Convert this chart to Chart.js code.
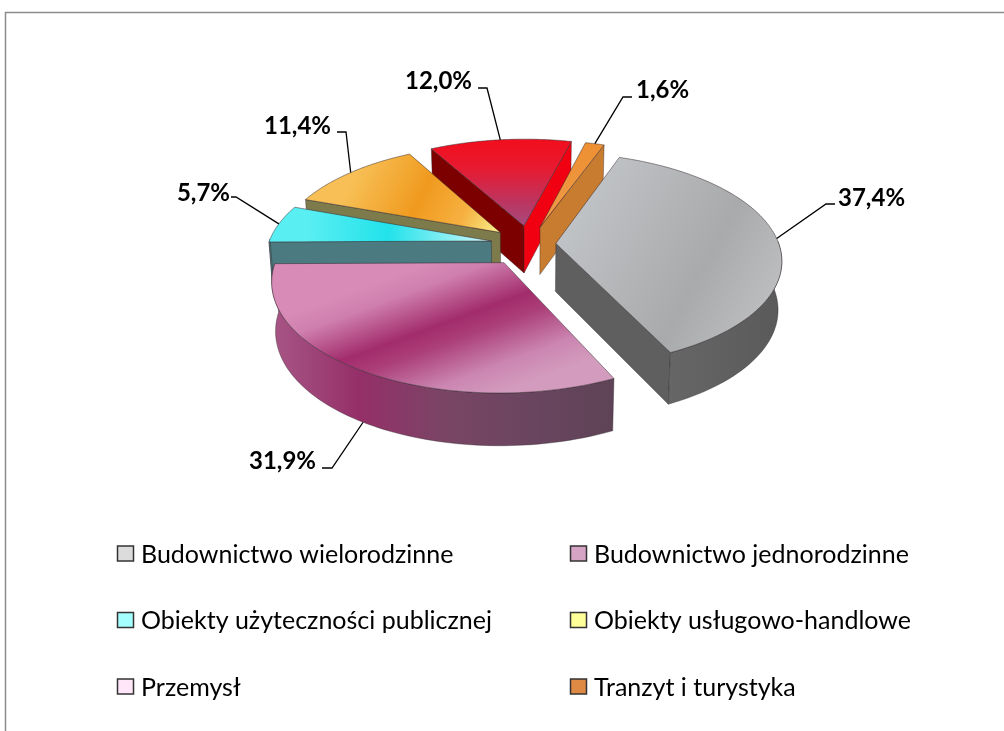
<!DOCTYPE html>
<html><head><meta charset="utf-8">
<style>html,body{margin:0;padding:0;background:#fff}#w{position:absolute;left:0;top:0;width:1004px;height:731px}</style>
<script src="https://cdn.jsdelivr.net/npm/chart.js@4"></script></head>
<body><div id="w"><canvas id="c" width="1004" height="731"></canvas></div>
<script>
const categories=['Budownictwo wielorodzinne','Budownictwo jednorodzinne','Obiekty użyteczności publicznej','Obiekty usługowo-handlowe','Przemysł','Tranzyt i turystyka'];
const shares=[37.4,31.9,5.7,11.4,12.0,1.6];
const legendColors=['#dcdcdc','#d5a3c3','#a6ffff','#ffff99','#ffe6f8','#de8a44'];
const baseColors=['#b4b6b8','#b0487f','#40e8f0','#f5a52a','#e0182c','#ee8f30'];
const explode=[40,68,57,57,60,57];

const P={cx:529,cy:244,A:223,B:104.6,k:0.15,d0:48,d1:4,shrink:0.985};
const project=(u,v)=>{const w=1-P.k*v;return [P.cx+P.A*u/w,P.cy+P.B*v/w];};
const depth=v=>P.d0+P.d1*v;
const lower=(p,v)=>[P.cx+(p[0]-P.cx)*P.shrink,p[1]+depth(v)];

// Per-slice face paint: gradient endpoints in pie units, colour stops
const paints=[
 {top:{from:[-.1,-.9],to:[1.2,.8],stops:[[0,'#cdd3d8'],[.3,'#bbbdc0'],[.6,'#a9aaab'],[.85,'#c0c2c3'],[1,'#c8cacb']]},
  rim:['#666666','#5a5a5a'],end:'#5f5f5f',start:'#5f5f5f'},
 {top:{from:[-.4,.15],to:[-.15,1.2],stops:[[0,'#d88bb6'],[.14,'#cf7fae'],[.42,'#a22c6d'],[.55,'#ab3e78'],[.82,'#cb86b1'],[1,'#d39bbd']]},
  rim:['#a65585','#952f69','#7a4565','#6a4560','#5e4356'],end:'#5e4356',start:'#5e4356'},
 {top:{from:[-1,-.1],to:[-.2,-.05],stops:[[0,'#58eef2'],[.45,'#22e2ea'],[1,'#c8f7fa']]},
  rim:['#4c7a80','#4c7a80'],end:'#4b7a80',start:'#4b7a80'},
 {top:{from:[-.85,-.85],to:[-.15,-.1],stops:[[0,'#f7bf55'],[.45,'#f09a1e'],[.75,'#f6b040'],[1,'#f8ec88']]},
  rim:['#7d7a4c','#7d7a4c'],end:'#7d7a4c',start:'#7d7a4c'},
 {top:{from:[.0,-1.2],to:[.0,-.2],stops:[[0,'#f20d1c'],[.35,'#e81a30'],[.75,'#bc3560'],[1,'#a8487c']]},
  rim:['#7d0000','#7d0000'],end:'#f00010',start:'#7d0000'},
 {top:{from:[0,-1.2],to:[0,-.2],stops:[[0,'#ee8f30'],[1,'#ee9a48']]},
  rim:['#c87c30','#c87c30'],end:'#c87c30',start:'#c87c30'}
];
const drawOrder=[4,5,3,2,0,1];

const labelLayout=[
 {elbow:[826,204],tail:[835,204],text:[838,198]},
 {elbow:[332,468],tail:[322,468],text:[316,461],right:true},
 {elbow:[236,197],tail:[231,197],text:[230,193],right:true},
 {elbow:[346,132],tail:[337,132],text:[331,126],right:true},
 {elbow:[487,88],tail:[478,88],text:[472,81],right:true},
 {elbow:[623,97],tail:[632,97],text:[636,90]}
];

const pie3d={id:'pie3d',beforeDatasetsDraw(chart){
  const ctx=chart.ctx, arcs=chart.getDatasetMeta(0).data;
  const geom=arcs.map(el=>{
    const s=el.startAngle,e=el.endAngle,m=(s+e)/2,o=el.options.offset/el.outerRadius;
    const ou=o*Math.cos(m),ov=o*Math.sin(m);
    const at=a=>[Math.cos(a)+ou,Math.sin(a)+ov];
    return {s,e,m,ou,ov,at};
  });
  const line=(pts)=>{ctx.beginPath();pts.forEach((p,i)=>i?ctx.lineTo(p[0],p[1]):ctx.moveTo(p[0],p[1]));ctx.closePath();};
  const stroke='rgba(50,40,45,.5)';
  drawOrder.forEach(i=>{
    const g=geom[i],pt=paints[i],N=80;
    const apex=project(g.ou,g.ov),apexB=lower(apex,g.ov);
    const rim=[];for(let t=0;t<=N;t++){const a=g.s+(g.e-g.s)*t/N,[u,v]=g.at(a);const p=project(u,v);rim.push({p,u,v,a,b:lower(p,v)});}
    // radial walls, culled by which side faces the viewer
    const wall=(r,other,col)=>{
      const dx=r.p[0]-apex[0],dy=r.p[1]-apex[1];
      const side=dx*(other.p[1]-apex[1])-dy*(other.p[0]-apex[0]);
      if(dx*side>0) return;
      line([apex,r.p,r.b,apexB]);ctx.fillStyle=col;ctx.fill();ctx.strokeStyle=stroke;ctx.lineWidth=.8;ctx.stroke();
    };
    wall(rim[0],rim[N],pt.start);wall(rim[N],rim[0],pt.end);
    // outer wall: only the part of the rim facing the viewer
    const front=rim.filter(r=>Math.sin(r.a)>-0.02);
    if(front.length>1){
      const a=front[0].p,b=front[front.length-1].p;
      const gr=ctx.createLinearGradient(Math.min(a[0],b[0]),0,Math.max(a[0],b[0]),0);
      pt.rim.forEach((c,j)=>gr.addColorStop(j/(pt.rim.length-1),c));
      line(front.map(r=>r.p).concat(front.slice().reverse().map(r=>r.b)));
      ctx.fillStyle=gr;ctx.fill();ctx.strokeStyle=stroke;ctx.lineWidth=.8;ctx.stroke();
    }
    // top face
    const f=project(...pt.top.from),t=project(...pt.top.to);
    const gt=ctx.createLinearGradient(f[0],f[1],t[0],t[1]);
    pt.top.stops.forEach(c=>gt.addColorStop(c[0],c[1]));
    line([apex].concat(rim.map(r=>r.p)));
    ctx.fillStyle=gt;ctx.fill();ctx.strokeStyle=stroke;ctx.lineWidth=1;ctx.stroke();
  });
  // data labels with leader lines
  ctx.textBaseline='middle';
  geom.forEach((g,i)=>{
    const L=labelLayout[i],[u,v]=g.at(g.m),p=project(u,v);
    const s=Math.sin(g.m)>0.5?lower(p,v):p;
    ctx.beginPath();ctx.moveTo(s[0],s[1]);ctx.lineTo(L.elbow[0],L.elbow[1]);ctx.lineTo(L.tail[0],L.tail[1]);
    ctx.strokeStyle='#000';ctx.lineWidth=1.3;ctx.stroke();
    ctx.font='bold 24px Lato';ctx.fillStyle='#000';ctx.textAlign=L.right?'right':'left';
    ctx.fillText(shares[i].toFixed(1).replace('.',',')+'%',L.text[0],L.text[1]);
  });
  return false;
},
afterDraw(chart){
  const ctx=chart.ctx;
  // outer frame
  ctx.strokeStyle='#8c8c8c';ctx.lineWidth=1.5;
  ctx.beginPath();ctx.moveTo(5.5,731);ctx.lineTo(5.5,12.5);ctx.lineTo(1004,12.5);ctx.stroke();
  // legend
  const cols=[117.5,570.5],rows=[553.5,620,686.5];
  ctx.textBaseline='middle';ctx.textAlign='left';
  categories.forEach((name,i)=>{
    const x=cols[i%2],y=rows[Math.floor(i/2)];
    ctx.fillStyle=legendColors[i];ctx.fillRect(x,y-7.5,16,15);
    ctx.strokeStyle='#333';ctx.lineWidth=1.5;ctx.strokeRect(x,y-7.5,16,15);
    ctx.fillStyle='#000';ctx.font='25px Lato';
    ctx.fillText(name,x+23.5,y+1);
  });
}};

new Chart(document.getElementById('c'),{type:'pie',
 data:{labels:categories,datasets:[{data:shares,backgroundColor:baseColors,offset:explode,borderWidth:0}]},
 options:{responsive:false,animation:false,rotation:20,layout:{padding:0},
  plugins:{legend:{display:false},tooltip:{enabled:false}}},
 plugins:[pie3d]});
</script></body></html>
